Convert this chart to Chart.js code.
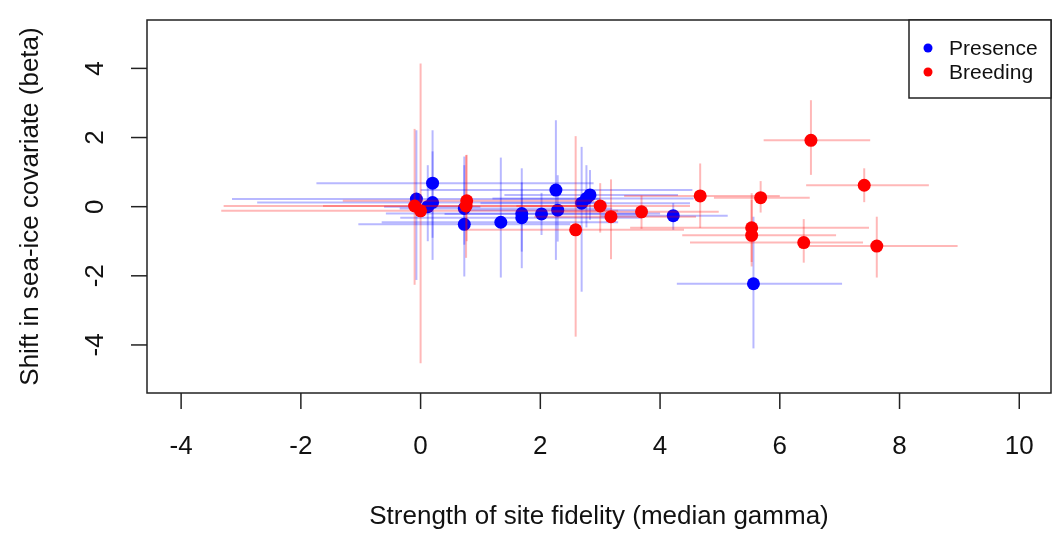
<!DOCTYPE html>
<html>
<head>
<meta charset="utf-8">
<script src="https://cdn.jsdelivr.net/npm/chart.js@4/dist/chart.umd.min.js"></script>
<style>
  html, body { margin: 0; padding: 0; background: #fff; }
  #wrap { width: 1053px; height: 536px; }
</style>
</head>
<body>
<div id="wrap"><canvas id="chart" width="1053" height="536"></canvas></div>
<script>
// Presence: median gamma, beta shift and their intervals
const presenceX    = [-0.07, 0.20, 0.20, 0.12, 0.73, 0.73, 1.34, 1.69, 1.69, 2.02, 2.26, 2.29, 2.69, 2.77, 2.83, 4.22, 5.56];
const presenceY    = [0.22, 0.68, 0.12, 0.00, -0.05, -0.51, -0.45, -0.20, -0.32, -0.21, 0.48, -0.10, 0.10, 0.24, 0.34, -0.26, -2.23];
const presenceXLo  = [-3.15, -1.74, -2.73, -0.61, -0.35, -1.04, -0.65, -0.58, -0.34, 0.40, 0.00, 0.80, 1.00, 1.20, 1.40, 3.00, 4.28];
const presenceXHi  = [3.00, 2.89, 3.10, 1.00, 3.20, 2.50, 3.30, 4.00, 3.70, 3.60, 4.54, 3.80, 4.50, 4.56, 4.30, 5.13, 7.04];
const presenceYLo  = [-2.12, -1.54, -0.90, -1.00, -1.10, -2.02, -2.05, -1.78, -1.30, -0.82, -1.54, -1.01, -2.46, -0.60, -0.38, -0.67, -4.10];
const presenceYHi  = [2.21, 2.21, 1.60, 1.20, 1.20, 1.45, 1.42, 1.11, 0.70, 0.40, 2.50, 0.91, 1.73, 1.20, 1.06, 0.10, -0.29];

// Breeding
const breedingX    = [-0.10, 0.00, 0.77, 0.76, 2.59, 3.00, 3.18, 3.69, 4.67, 5.68, 6.52, 7.41, 5.53, 5.53, 6.40, 7.62];
const breedingY    = [0.02, -0.12, 0.17, 0.02, -0.67, 0.02, -0.29, -0.15, 0.31, 0.26, 1.92, 0.62, -0.61, -0.83, -1.04, -1.14];
const breedingXLo  = [-3.29, -3.33, -1.30, -1.63, 0.77, 1.60, 1.90, 2.20, 3.40, 4.90, 5.73, 6.44, 3.50, 4.37, 4.50, 6.44];
const breedingXHi  = [2.60, 3.30, 2.90, 3.10, 4.40, 4.50, 4.60, 4.98, 6.00, 6.50, 7.51, 8.49, 7.49, 6.94, 7.39, 8.97];
const breedingYLo  = [-2.26, -4.53, -1.00, -1.48, -3.76, -0.75, -1.52, -0.64, -0.61, -0.17, 0.92, 0.13, -1.73, -1.60, -1.62, -2.05];
const breedingYHi  = [2.25, 4.14, 1.50, 1.49, 2.04, 0.68, 0.79, 0.32, 1.25, 0.74, 3.08, 1.11, 0.39, 0.20, -0.36, -0.29];

const xTicks = [-4, -2, 0, 2, 4, 6, 8, 10];
const yTicks = [-4, -2, 0, 2, 4];
const legendLabels = ['Presence', 'Breeding'];
const xTitle = 'Strength of site fidelity (median gamma)';
const yTitle = 'Shift in sea-ice covariate (beta)';

const FONT = '"Liberation Sans", Arial, sans-serif';

function toPoints(xs, ys, xlo, xhi, ylo, yhi) {
  return xs.map((x, i) => ({ x: x, y: ys[i], xMin: xlo[i], xMax: xhi[i], yMin: ylo[i], yMax: yhi[i] }));
}

// draws the interval lines of a dataset just before its points
const errorBarPlugin = {
  id: 'errorBars',
  beforeDatasetDraw(chart, args) {
    const ds = chart.data.datasets[args.index];
    const xs = chart.scales.x, ys = chart.scales.y;
    const ctx = chart.ctx;
    ctx.save();
    ctx.beginPath();
    const a = chart.chartArea;
    ctx.rect(a.left, a.top, a.right - a.left, a.bottom - a.top);
    ctx.clip();
    ctx.strokeStyle = ds.errorColor;
    ctx.lineWidth = 2;
    ds.data.forEach(p => {
      const px = xs.getPixelForValue(p.x), py = ys.getPixelForValue(p.y);
      ctx.beginPath();
      ctx.moveTo(xs.getPixelForValue(p.xMin), py);
      ctx.lineTo(xs.getPixelForValue(p.xMax), py);
      ctx.stroke();
      ctx.beginPath();
      ctx.moveTo(px, ys.getPixelForValue(p.yMin));
      ctx.lineTo(px, ys.getPixelForValue(p.yMax));
      ctx.stroke();
    });
    ctx.restore();
  }
};

// base-graphics style frame, axes, titles and legend
const framePlugin = {
  id: 'frame',
  afterDraw(chart) {
    const ctx = chart.ctx;
    const a = chart.chartArea;
    const xs = chart.scales.x, ys = chart.scales.y;
    ctx.save();
    ctx.strokeStyle = '#222';
    ctx.lineWidth = 1.5;
    ctx.strokeRect(a.left, a.top, a.right - a.left, a.bottom - a.top);

    ctx.fillStyle = '#111';
    ctx.font = '26px ' + FONT;

    // x axis
    ctx.textAlign = 'center';
    ctx.textBaseline = 'middle';
    xTicks.forEach(t => {
      const px = xs.getPixelForValue(t);
      ctx.beginPath();
      ctx.moveTo(px, a.bottom);
      ctx.lineTo(px, a.bottom + 16);
      ctx.stroke();
      ctx.fillText(String(t), px, a.bottom + 54);
    });

    // y axis, labels parallel to the axis
    yTicks.forEach(t => {
      const py = ys.getPixelForValue(t);
      ctx.beginPath();
      ctx.moveTo(a.left, py);
      ctx.lineTo(a.left - 16, py);
      ctx.stroke();
      ctx.save();
      ctx.translate(a.left - 51, py);
      ctx.rotate(-Math.PI / 2);
      ctx.fillText(String(t), 0, 0);
      ctx.restore();
    });

    // titles
    ctx.fillText(xTitle, (a.left + a.right) / 2, a.bottom + 124);
    ctx.save();
    ctx.translate(31, (a.top + a.bottom) / 2);
    ctx.rotate(-Math.PI / 2);
    ctx.fillText(yTitle, 0, 0);
    ctx.restore();

    // legend
    const lx = 909, ly = a.top, lw = a.right - lx, lh = 78;
    ctx.fillStyle = '#fff';
    ctx.fillRect(lx, ly, lw, lh);
    ctx.strokeRect(lx, ly, lw, lh);
    ctx.font = '21px ' + FONT;
    ctx.textAlign = 'left';
    chart.data.datasets.forEach((ds, i) => {
      const rowY = ly + 28 + i * 24;
      ctx.fillStyle = ds.backgroundColor;
      ctx.beginPath();
      ctx.arc(lx + 19, rowY, 4.5, 0, Math.PI * 2);
      ctx.fill();
      ctx.fillStyle = '#111';
      ctx.fillText(legendLabels[i], lx + 40, rowY + 1);
    });
    ctx.restore();
  }
};

new Chart(document.getElementById('chart'), {
  type: 'scatter',
  data: {
    datasets: [
      {
        label: legendLabels[0],
        data: toPoints(presenceX, presenceY, presenceXLo, presenceXHi, presenceYLo, presenceYHi),
        backgroundColor: '#0000ff',
        borderColor: '#0000ff',
        errorColor: 'rgba(0, 0, 255, 0.28)',
        pointRadius: 6.5,
        borderWidth: 0,
        order: 2
      },
      {
        label: legendLabels[1],
        data: toPoints(breedingX, breedingY, breedingXLo, breedingXHi, breedingYLo, breedingYHi),
        backgroundColor: '#ff0000',
        borderColor: '#ff0000',
        errorColor: 'rgba(255, 0, 0, 0.28)',
        pointRadius: 6.5,
        borderWidth: 0,
        order: 1
      }
    ]
  },
  options: {
    responsive: false,
    animation: false,
    events: [],
    layout: { autoPadding: false, padding: { left: 147, top: 20, right: 2, bottom: 143 } },
    plugins: {
      legend: { display: false },
      tooltip: { enabled: false }
    },
    scales: {
      x: { type: 'linear', min: -4.57, max: 10.53, display: false },
      y: { type: 'linear', min: -5.39, max: 5.40, display: false }
    }
  },
  plugins: [errorBarPlugin, framePlugin]
});
</script>
</body>
</html>
